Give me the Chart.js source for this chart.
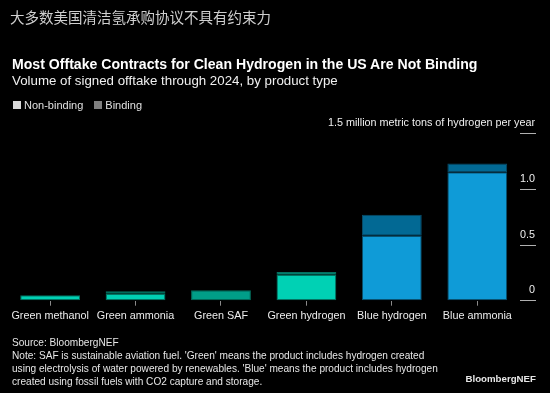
<!DOCTYPE html>
<html>
<head>
<meta charset="utf-8">
<script src="https://cdn.jsdelivr.net/npm/chart.js@4"></script>
<style>
  html, body { margin:0; padding:0; background:#000; }
  body { width:550px; height:393px; position:relative; overflow:hidden; font-family:"Liberation Sans", Arial, sans-serif; }
  .t { position:absolute; white-space:nowrap; line-height:1; }
  #cn { left:10px; top:9.5px; font-family:"Noto Sans CJK SC", sans-serif; font-size:14.5px; color:#cfcfcf; }
  #title { left:12px; top:56.6px; font-size:14.1px; font-weight:bold; color:#fff; }
  #sub { left:12px; top:74.2px; font-size:13.3px; color:#f0f0f0; }
  #legend { left:13px; top:99.6px; font-size:11px; color:#e0e0e0; }
  #legend span.sw { display:inline-block; width:7.5px; height:7.5px; margin-right:3.5px; vertical-align:0px; }
  #legend span.item { margin-right:11px; }
  #notes { left:12px; top:337px; font-size:10.1px; line-height:12.9px; color:#e6e6e6; }
  #brand { right:14px; top:373.5px; font-size:9.7px; font-weight:bold; color:#e6e6e6; }
  #wrap { position:absolute; left:0; top:0; width:550px; height:393px; }
</style>
</head>
<body>
<div id="wrap"><canvas id="c" width="550" height="393"></canvas></div>
<div class="t" id="cn">大多数美国清洁氢承购协议不具有约束力</div>
<div class="t" id="title">Most Offtake Contracts for Clean Hydrogen in the US Are Not Binding</div>
<div class="t" id="sub">Volume of signed offtake through 2024, by product type</div>
<div class="t" id="legend"><span class="item"><span class="sw" style="background:#d9d9d9"></span>Non-binding</span><span class="item"><span class="sw" style="background:#7f7f7f"></span>Binding</span></div>
<div class="t" id="notes">Source: BloombergNEF<br>Note: SAF is sustainable aviation fuel. 'Green' means the product includes hydrogen created<br>using electrolysis of water powered by renewables. 'Blue' means the product includes hydrogen<br>created using fossil fuels with CO2 capture and storage.</div>
<div class="t" id="brand">BloombergNEF</div>
<script>
const categories = ['Green methanol', 'Green ammonia', 'Green SAF', 'Green hydrogen', 'Blue hydrogen', 'Blue ammonia'];
const nonBinding = [0.05, 0.063, 0, 0.233, 0.583, 1.153];
const binding = [0, 0.021, 0.093, 0.025, 0.19, 0.08];
const yTicks = [0, 0.5, 1.0, 1.5];
const yTickLabels = ['0', '0.5', '1.0', '1.5 million metric tons of hydrogen per year'];

const isBlue = categories.map(c => c.startsWith('Blue'));
const nbColors = isBlue.map(b => b ? '#0f9bd7' : '#00d1b4');
const bColors = isBlue.map(b => b ? '#026994' : '#019e88');
const borderColors = isBlue.map(b => b ? '#0a4d69' : '#05705f');

new Chart(document.getElementById('c'), {
  type: 'bar',
  data: {
    labels: categories,
    datasets: [
      { label: 'Non-binding', data: nonBinding, backgroundColor: nbColors, borderColor: borderColors, borderWidth: 1, borderSkipped: false, categoryPercentage: 1, barPercentage: 0.7 },
      { label: 'Binding', data: binding, backgroundColor: bColors, borderColor: borderColors, borderWidth: 1, borderSkipped: false, categoryPercentage: 1, barPercentage: 0.7 }
    ]
  },
  options: {
    responsive: false,
    animation: false,
    devicePixelRatio: 1,
    layout: { padding: { left: 7.4, top: 133.7, right: 0, bottom: 0 } },
    plugins: { legend: { display: false }, title: { display: false }, tooltip: { enabled: false } },
    scales: {
      x: {
        stacked: true,
        offset: true,
        border: { display: false },
        grid: { offset: false, drawOnChartArea: false, drawTicks: true, tickLength: 5, color: '#8a8a8a' },
        ticks: { color: '#ececec', font: { family: '"Liberation Sans", Arial, sans-serif', size: 10.8 }, padding: 4, maxRotation: 0, autoSkip: false },
        afterFit: (s) => { s.height = 92.3; }
      },
      y: {
        stacked: true,
        position: 'right',
        min: 0, max: 1.5,
        border: { display: false },
        afterBuildTicks: (s) => { s.ticks = yTicks.map(v => ({ value: v })); },
        grid: { drawOnChartArea: false, drawTicks: true, tickLength: 16, color: '#b0b0b0' },
        ticks: {
          mirror: true, padding: 15, labelOffset: -10.5, z: 1,
          color: '#efefef', font: { family: '"Liberation Sans", Arial, sans-serif', size: 10.8 },
          callback: (v) => { const i = yTicks.indexOf(v); return i >= 0 ? yTickLabels[i] : ''; }
        },
        afterFit: (s) => { s.width = 30; }
      }
    }
  }
});
</script>
</body>
</html>
